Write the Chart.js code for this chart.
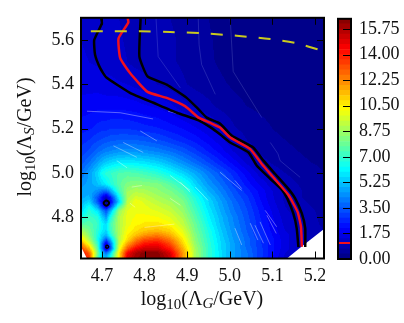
<!DOCTYPE html>
<html>
<head>
<meta charset="utf-8">
<title>Lambda G vs Lambda S</title>
<script src="https://cdn.jsdelivr.net/npm/chart.js@4"></script>
<style>
  html, body { margin: 0; padding: 0; background: #fff; overflow: hidden; }
  #main { position: absolute; left: 0; top: 0; }
  #bar { position: absolute; left: 325px; top: 0; }
</style>
</head>
<body>
<canvas id="main" width="325" height="323"></canvas>
<canvas id="bar" width="79" height="323"></canvas>
<script>
// grid the field is read on (denser around the two holes)
const gridX = [4.65,4.67,4.69,4.70,4.71,4.72,4.74,4.76,4.78,4.80,4.83,4.86,4.89,4.92,4.95,4.98,5.01,5.04,5.07,5.10,5.13,5.16,5.19,5.22];
const gridY = [4.62,4.64,4.66,4.68,4.70,4.72,4.74,4.77,4.80,4.83,4.85,4.87,4.89,4.92,4.95,5.00,5.05,5.10,5.15,5.20,5.30,5.40,5.50,5.60,5.70];
const gridZ = [
  [14.5,13.5,7.5,5.5,5,6.5,10.5,15,16,16.4,16.4,15.3,12,8.8,7,5.7,4.6,3.9,3,2.1,1.3,1,.8,.7],
  [14.5,13,8,5.5,3.8,5.5,10.5,14.5,15.8,16.3,16.3,15,12,8.8,7,5.7,4.6,3.9,3,2.2,1.4,1.1,.9,.7],
  [13.5,11.5,7.5,4,1,3.2,9.8,13,14.5,15.2,15.2,14,11.5,8.7,7,5.6,4.6,3.8,3,2.2,1.5,1.2,.9,.7],
  [12.5,10,7,4,1.3,3.6,9.3,11.8,13.3,14.2,14.5,13.3,11,8.5,6.9,5.6,4.6,3.7,2.9,2.2,1.5,1.2,.9,.7],
  [11,9,6.5,5,3.2,5,9,10.8,12.3,13.2,13.5,12.5,10.6,8.3,6.8,5.5,4.5,3.7,2.9,2.2,1.5,1.2,.9,.7],
  [10,8.3,6.6,5.5,5,6.5,9,10.5,11.3,12,12.4,11.6,10.2,8.2,6.7,5.4,4.4,3.6,2.8,2.1,1.5,1.2,.9,.7],
  [9,8,6.8,6,5.5,7,9,10.2,10.8,11.2,11.4,11,9.8,8,6.6,5.3,4.3,3.5,2.7,2,1.4,1.1,.9,.7],
  [7.5,7.6,7,6.2,5.6,7.2,9,10,10.4,10.6,10.7,10.3,9.3,7.8,6.3,5.1,4.2,3.4,2.6,1.9,1.3,1,.8,.65],
  [6.5,7.2,6.8,5.5,4.6,6.5,9,10,10.2,10.3,10.2,9.8,9,7.5,6.1,5,4.1,3.3,2.5,1.8,1.2,.95,.8,.6],
  [5.5,6.8,5.8,4.5,3.4,5,8.6,9.8,10.1,10,9.8,9.4,8.6,7.2,5.9,4.8,3.9,3.2,2.4,1.7,1.1,.9,.75,.6],
  [5.2,6.3,4.6,2.8,1.4,3,7,9.6,10,9.9,9.5,9.1,8.4,7,5.7,4.7,3.8,3.1,2.3,1.6,1.05,.85,.7,.55],
  [5,5.6,3.4,1.9,.1,1.8,5.4,9.2,10.2,9.7,9.2,8.8,8.2,6.8,5.6,4.6,3.7,3,2.2,1.5,1,.8,.65,.5],
  [4.8,5,3.4,2.1,1,2.3,6,9,9.6,9.4,8.9,8.5,7.9,6.6,5.4,4.4,3.5,2.9,2.1,1.45,.95,.75,.6,.5],
  [4.6,4.8,4.4,4,3.8,4.8,7.2,8.7,9,8.9,8.5,8.1,7.4,6,4.9,4.1,3.3,2.6,2,1.4,1,.75,.6,.5],
  [4.4,4.7,5.2,5.6,6,6.6,7.6,8.2,8.4,8.3,8.2,7.6,6.8,5.5,4.5,3.8,3,2.3,1.7,1.2,.9,.7,.55,.45],
  [3.8,4.6,5.6,6.4,6.8,7,7.4,7.5,7.4,7.2,6.8,6.2,5.5,4.8,4,3.3,2.6,1.9,1.25,.9,.7,.55,.45,.35],
  [3.3,3.8,4.6,5,5.3,5.5,5.8,5.9,5.8,5.7,5.4,4.9,4.3,3.7,3.1,2.5,1.9,1.3,.85,.65,.5,.4,.35,.3],
  [2.9,3.2,3.7,3.9,4.1,4.2,4.4,4.4,4.4,4.3,4.1,3.8,3.4,2.9,2.4,1.9,1.35,.9,.65,.5,.4,.35,.3,.25],
  [2.6,2.8,3.1,3.2,3.3,3.4,3.5,3.5,3.5,3.4,3.2,2.9,2.6,2.3,1.9,1.5,1.05,.7,.5,.4,.35,.3,.25,.2],
  [2.3,2.4,2.6,2.7,2.7,2.8,2.8,2.8,2.7,2.6,2.5,2.3,2.1,1.8,1.5,1.15,.75,.55,.45,.35,.3,.25,.2,.2],
  [1.9,1.95,2,2,2,2,2,1.95,1.9,1.8,1.7,1.5,1.2,1,.8,.6,.45,.35,.3,.25,.2,.15,.15,.1],
  [1.6,1.6,1.6,1.55,1.5,1.5,1.45,1.4,1.3,1.2,1.05,.9,.75,.6,.5,.4,.3,.25,.2,.15,.15,.1,.1,.1],
  [1.45,1.4,1.35,1.3,1.3,1.25,1.15,1.05,.95,.9,.85,.75,.65,.5,.4,.3,.2,.15,.1,.1,.1,.05,.05,.05],
  [1.4,1.35,1.3,1.25,1.2,1.15,1.1,1,.95,.9,.85,.75,.65,.5,.4,.25,.15,.1,.1,.05,.05,.05,.05,.05],
  [1.35,1.3,1.25,1.2,1.15,1.1,1.05,.95,.9,.85,.8,.7,.6,.45,.35,.2,.1,.1,.05,.05,.05,.05,.05,.05]
];

// contour lines
const blackLeftX = [4.698,4.700,4.682,4.684,4.696,4.710,4.766,4.821,4.876,4.927,4.954,4.977,5.001,5.044,5.063,5.095,5.122,5.135,5.149,5.157,5.161];
const blackLeftY = [5.703,5.675,5.600,5.533,5.473,5.432,5.362,5.317,5.272,5.238,5.207,5.175,5.138,5.093,5.034,4.974,4.925,4.885,4.818,4.751,4.666];
const blackRightX = [4.791,4.788,4.807,4.852,4.899,4.927,4.946,4.977,5.005,5.055,5.079,5.106,5.137,5.153,5.169,5.177,5.177];
const blackRightY = [5.703,5.525,5.436,5.399,5.339,5.287,5.250,5.223,5.168,5.115,5.056,4.997,4.930,4.887,4.818,4.751,4.667];
const redX = [4.760,4.762,4.739,4.743,4.766,4.807,4.852,4.895,4.927,4.954,4.977,5.001,5.048,5.075,5.102,5.138,5.159,5.167,5.169];
const redY = [5.703,5.679,5.607,5.518,5.451,5.366,5.339,5.302,5.250,5.227,5.205,5.160,5.108,5.041,4.981,4.900,4.825,4.758,4.668];
const yellowX = [4.674,4.790,4.860,4.938,5.016,5.095,5.157,5.213];
const yellowY = [5.639,5.639,5.636,5.630,5.619,5.604,5.585,5.554];
// tiny closed contours around the two holes
const loopUpperX = [4.703,4.710,4.717,4.710,4.703];
const loopUpperY = [4.865,4.877,4.865,4.853,4.865];
const loopLowerX = [4.708,4.712,4.716,4.712,4.708];
const loopLowerY = [4.668,4.675,4.668,4.661,4.668];

// thin pale streaks, null breaks the line
const streakX = [4.977,5.028,null,5.071,5.095,null,5.083,5.110,null,5.048,5.066,null,5.012,5.028,null,4.860,4.907,null,4.919,4.949,null,4.860,4.884,null,4.665,4.743,4.820,null,4.727,4.782,null,4.750,4.797,null,4.790,4.829,null,4.735,4.759,null,4.855,4.899,null,4.770,4.794,null,4.766,4.778,null,4.800,4.870,null,5.059,5.079,null,5.087,5.109,null,5.012,5.028,null,4.884,4.907];
const streakY = [5.004,4.922,null,4.780,4.676,null,4.832,4.758,null,4.774,4.698,null,4.752,4.676,null,4.989,4.922,null,4.937,4.877,null,4.886,4.855,null,5.279,5.272,5.244,null,5.123,5.071,null,5.138,5.093,null,5.190,5.145,null,5.056,5.024,null,5.279,5.257,null,4.937,4.944,null,4.864,4.846,null,4.755,4.770,null,4.765,4.684,null,4.810,4.728,null,4.967,4.930,null,4.959,4.914];
const faintX = [4.827,4.832,4.884,null,4.926,4.928,4.934,4.966,null,5.001,5.008,5.075,null,5.095,5.113,5.118,5.165];
const faintY = [5.697,5.525,5.384,null,5.697,5.578,5.489,5.355,null,5.697,5.458,5.250,null,5.138,5.087,5.056,4.981];

// corners with no data
const holeRightX = [5.134,5.165,5.221,5.221,5.134];
const holeRightY = [4.615,4.663,4.748,4.615,4.615];
const holeLeftX = [4.651,4.665,4.651,4.651];
const holeLeftY = [4.668,4.615,4.615,4.668];

const xTicks = [4.7,4.8,4.9,5.0,5.1,5.2];
const yTicks = [4.8,5.0,5.2,5.4,5.6];
const barTicks = [0,1.75,3.5,5.25,7,8.75,10.5,12.25,14,15.75];
const levelStep = 0.35;
const levelCount = 47;
const redLevel = 1.08;

const tickFont = { family: '"Liberation Serif", serif', size: 18 };
const ink = '#111';

function jet(f) {
  const ramp = (a) => Math.round(255 * Math.max(0, Math.min(1, a)));
  return [ramp(1.5 - Math.abs(4 * f - 3)), ramp(1.5 - Math.abs(4 * f - 2)), ramp(1.5 - Math.abs(4 * f - 1))];
}

function findCell(list, v) {
  let i = 0;
  while (i < list.length - 2 && v > list[i + 1]) i++;
  const t = Math.max(0, Math.min(1, (v - list[i]) / (list[i + 1] - list[i])));
  return [i, t];
}

function pts(xs, ys) {
  return xs.map((x, i) => ({ x: x === null ? NaN : x, y: ys[i] === null ? NaN : ys[i] }));
}

// the filled contour field, read through the chart's scales
const fieldPlugin = {
  id: 'field',
  beforeDatasetsDraw(chart) {
    const area = chart.chartArea;
    const w = Math.ceil(area.right - area.left);
    const h = Math.ceil(area.bottom - area.top);
    const off = document.createElement('canvas');
    off.width = w;
    off.height = h;
    const octx = off.getContext('2d');
    const img = octx.createImageData(w, h);
    for (let py = 0; py < h; py++) {
      const [r, tr] = findCell(gridY, chart.scales.y.getValueForPixel(area.top + py + 0.5));
      for (let px = 0; px < w; px++) {
        const [c, tc] = findCell(gridX, chart.scales.x.getValueForPixel(area.left + px + 0.5));
        const low = gridZ[r][c] * (1 - tc) + gridZ[r][c + 1] * tc;
        const high = gridZ[r + 1][c] * (1 - tc) + gridZ[r + 1][c + 1] * tc;
        const v = low * (1 - tr) + high * tr;
        const level = Math.min(levelCount - 1, Math.floor(v / levelStep));
        const col = jet((level + 0.5) / levelCount);
        const k = (py * w + px) * 4;
        img.data[k] = col[0];
        img.data[k + 1] = col[1];
        img.data[k + 2] = col[2];
        img.data[k + 3] = 255;
      }
    }
    octx.putImageData(img, 0, 0);
    chart.ctx.drawImage(off, area.left, area.top);
  }
};

// box and inward ticks on all four sides, axis titles with subscripts
const framePlugin = {
  id: 'frame',
  afterDraw(chart) {
    const { ctx, chartArea: a, scales } = chart;
    ctx.save();
    ctx.strokeStyle = '#000';
    ctx.lineWidth = 1;
    ctx.beginPath();
    xTicks.forEach(v => {
      const p = Math.round(scales.x.getPixelForValue(v)) + 0.5;
      ctx.moveTo(p, a.top); ctx.lineTo(p, a.top + 7);
      ctx.moveTo(p, a.bottom); ctx.lineTo(p, a.bottom - 7);
    });
    yTicks.forEach(v => {
      const p = Math.round(scales.y.getPixelForValue(v)) + 0.5;
      ctx.moveTo(a.left, p); ctx.lineTo(a.left + 7, p);
      ctx.moveTo(a.right, p); ctx.lineTo(a.right - 7, p);
    });
    ctx.stroke();
    ctx.lineWidth = 2;
    ctx.strokeRect(a.left, a.top, a.right - a.left, a.bottom - a.top);
    ctx.restore();
    drawLabel(ctx, 'G', 202, 305, 0);
    drawLabel(ctx, 'S', 31, 137, -Math.PI / 2);
  }
};

function drawLabel(ctx, sub, x, y, angle) {
  const big = '20px "Liberation Serif", serif';
  const small = '15px "Liberation Serif", serif';
  const slanted = 'italic 15px "Liberation Serif", serif';
  const parts = [
    ['log', big, 0], ['10', small, 4], ['(\u039b', big, 0],
    [sub, slanted, 3], ['/GeV)', big, 0]
  ];
  ctx.save();
  ctx.translate(x, y);
  ctx.rotate(angle);
  ctx.fillStyle = ink;
  ctx.textBaseline = 'alphabetic';
  ctx.textAlign = 'left';
  let total = 0;
  parts.forEach(p => { ctx.font = p[1]; total += ctx.measureText(p[0]).width; });
  let cx = -total / 2;
  parts.forEach(p => {
    ctx.font = p[1];
    ctx.fillText(p[0], cx, p[2]);
    cx += ctx.measureText(p[0]).width;
  });
  ctx.restore();
}

function line(xs, ys, color, width, order, extra) {
  return Object.assign({
    data: pts(xs, ys), showLine: true, pointRadius: 0, borderColor: color,
    borderWidth: width, tension: 0.15, order: order
  }, extra || {});
}

// the serif is a little narrower than the reference's, open it up
document.getElementById('main').getContext('2d').letterSpacing = '1px';
document.getElementById('bar').getContext('2d').letterSpacing = '1px';

new Chart(document.getElementById('main'), {
  type: 'scatter',
  data: {
    datasets: [
      line(yellowX, yellowY, '#c9c91e', 2, 1, { borderDash: [12, 12], tension: 0.3 }),
      line(redX, redY, '#f2101c', 2.5, 2),
      line(blackLeftX, blackLeftY, '#000', 2.5, 3),
      line(blackRightX, blackRightY, '#000', 2.5, 3),
      line(loopUpperX, loopUpperY, '#000', 2, 3, { tension: 0.4 }),
      line(loopLowerX, loopLowerY, '#000', 1.5, 3, { tension: 0.4 }),
      line(holeRightX, holeRightY, '#fff', 0, 4, { fill: 'shape', backgroundColor: '#fff', tension: 0 }),
      line(holeLeftX, holeLeftY, '#fff', 0, 4, { fill: 'shape', backgroundColor: '#fff', tension: 0 }),
      line(streakX, streakY, 'rgba(255,255,255,0.45)', 0.8, 5, { tension: 0, spanGaps: false }),
      line(faintX, faintY, 'rgba(190,200,255,0.22)', 0.8, 5, { tension: 0, spanGaps: false })
    ]
  },
  options: {
    responsive: false,
    animation: false,
    layout: { padding: { top: 16, right: 1, left: 0, bottom: 0 } },
    plugins: { legend: { display: false }, tooltip: { enabled: false } },
    scales: {
      x: {
        type: 'linear', min: 4.651, max: 5.221,
        afterFit(s) { s.height = 64.5; s.paddingLeft = 0; s.paddingRight = 0; },
        afterBuildTicks(s) { s.ticks = xTicks.map(v => ({ value: v })); },
        grid: { display: false, drawTicks: false }, border: { display: false },
        ticks: { font: tickFont, color: ink, padding: 7, maxRotation: 0, callback: v => v.toFixed(1) }
      },
      y: {
        type: 'linear', min: 4.615, max: 5.70,
        afterFit(s) { s.width = 81; },
        afterBuildTicks(s) { s.ticks = yTicks.map(v => ({ value: v })); },
        grid: { display: false, drawTicks: false }, border: { display: false },
        ticks: { font: tickFont, color: ink, padding: 7, callback: v => v.toFixed(1) }
      }
    }
  },
  plugins: [fieldPlugin, framePlugin]
});

// colour bar: one stacked band per contour level
const bands = [];
for (let i = 0; i < levelCount; i++) {
  const c = jet((i + 0.5) / levelCount);
  bands.push({ data: [levelStep], backgroundColor: 'rgb(' + c.join(',') + ')', borderWidth: 0, stack: 'levels' });
}

const barFramePlugin = {
  id: 'barFrame',
  afterDraw(chart) {
    const { ctx, chartArea: a, scales } = chart;
    ctx.save();
    ctx.strokeStyle = '#f2101c';
    ctx.lineWidth = 2;
    ctx.beginPath();
    const red = Math.round(scales.y.getPixelForValue(redLevel));
    ctx.moveTo(a.left, red); ctx.lineTo(a.right, red);
    ctx.stroke();
    ctx.strokeStyle = '#000';
    ctx.lineWidth = 1;
    ctx.beginPath();
    barTicks.forEach(v => {
      const p = Math.round(scales.y.getPixelForValue(v)) + 0.5;
      ctx.moveTo(a.right, p); ctx.lineTo(a.right - 8, p);
    });
    ctx.stroke();
    ctx.lineWidth = 2;
    ctx.strokeRect(a.left, a.top, a.right - a.left, a.bottom - a.top);
    ctx.restore();
  }
};

new Chart(document.getElementById('bar'), {
  type: 'bar',
  data: { labels: [''], datasets: bands },
  options: {
    responsive: false,
    animation: false,
    layout: { padding: { top: 16, left: 13, right: 0, bottom: 64 } },
    plugins: { legend: { display: false }, tooltip: { enabled: false } },
    datasets: { bar: { barPercentage: 1, categoryPercentage: 1 } },
    scales: {
      x: { stacked: true, display: false },
      y: {
        stacked: true, position: 'right', min: 0, max: levelStep * levelCount,
        afterFit(s) { s.width = 53; },
        afterBuildTicks(s) { s.ticks = barTicks.map(v => ({ value: v })); },
        grid: { display: false, drawTicks: false }, border: { display: false },
        ticks: { font: tickFont, color: ink, padding: 8, callback: v => v.toFixed(2) }
      }
    }
  },
  plugins: [barFramePlugin]
});
</script>
</body>
</html>
